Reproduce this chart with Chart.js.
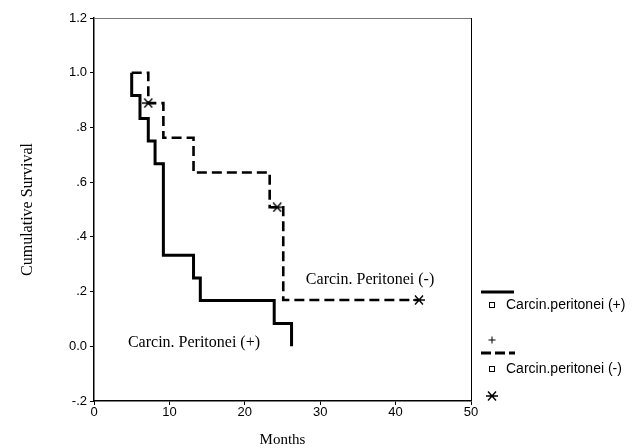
<!DOCTYPE html>
<html>
<head>
<meta charset="utf-8">
<script src="https://cdn.jsdelivr.net/npm/chart.js@4/dist/chart.umd.min.js"></script>
<style>
  html, body { margin: 0; padding: 0; background: #fff; }
  #wrap { width: 643px; height: 448px; }
</style>
</head>
<body>
<div id="wrap"><canvas id="kmChart" width="643" height="448"></canvas></div>
<script>
// Kaplan-Meier data: months / cumulative survival
const posMonths = [5, 5, 6.1, 7.2, 8.1, 9.2, 13.2, 14.1, 23.9, 26.2];
const posSurvival = [1.0, 0.917, 0.833, 0.75, 0.667, 0.333, 0.25, 0.167, 0.083, 0.0];
const negMonths = [5, 7.2, 9.2, 13.2, 23.3, 25.1, 43.1];
const negSurvival = [1.0, 0.889, 0.762, 0.635, 0.508, 0.169, 0.169];
const negCensorMonths = [7.2, 24.3, 43.1];
const negCensorSurvival = [0.889, 0.508, 0.169];

const xTicks = [0, 10, 20, 30, 40, 50];
const yTicks = [-0.2, 0, 0.2, 0.4, 0.6, 0.8, 1.0, 1.2];
const yTickLabels = ['-.2', '0.0', '.2', '.4', '.6', '.8', '1.0', '1.2'];
const seriesNames = ['Carcin.peritonei (+)', 'Carcin.peritonei (-)'];
const curveLabels = ['Carcin. Peritonei (+)', 'Carcin. Peritonei (-)'];
const curveLabelAt = [[4.5, 0.012], [28.1, 0.242]];

const SANS = '"Liberation Sans", Arial, sans-serif';
const SERIF = '"Liberation Serif", "Times New Roman", serif';

function toPoints(xs, ys) {
  return xs.map((x, i) => ({ x, y: ys[i] }));
}

function makeStar(w, h) {
  const c = document.createElement('canvas');
  c.width = w; c.height = h;
  const g = c.getContext('2d');
  g.strokeStyle = '#000';
  g.lineWidth = 1.4;
  g.beginPath();
  g.moveTo(0, h / 2); g.lineTo(w, h / 2);
  g.moveTo(2, 0.5); g.lineTo(w - 2, h - 0.5);
  g.moveTo(w - 2, 0.5); g.lineTo(2, h - 0.5);
  g.stroke();
  return c;
}
const starImg = makeStar(12, 10);

// box round the plot (top + right sides)
const framePlugin = {
  id: 'frame',
  beforeDatasetsDraw(chart) {
    const { ctx, chartArea: a } = chart;
    ctx.save();
    ctx.lineWidth = 1;
    ctx.strokeStyle = '#777';
    ctx.beginPath();
    ctx.moveTo(a.left, a.top + 0.5); ctx.lineTo(a.right, a.top + 0.5);
    ctx.stroke();
    ctx.strokeStyle = '#000';
    ctx.beginPath();
    ctx.moveTo(a.right + 0.5, a.top); ctx.lineTo(a.right + 0.5, a.bottom);
    ctx.stroke();
    ctx.restore();
  }
};

// text labels next to the curves
const curveLabelPlugin = {
  id: 'curveLabels',
  afterDatasetsDraw(chart) {
    const { ctx, scales: { x, y } } = chart;
    ctx.save();
    ctx.font = '16px ' + SERIF;
    ctx.fillStyle = '#000';
    ctx.textBaseline = 'middle';
    ctx.textAlign = 'left';
    curveLabels.forEach((t, i) => {
      ctx.fillText(t, x.getPixelForValue(curveLabelAt[i][0]), y.getPixelForValue(curveLabelAt[i][1]));
    });
    ctx.restore();
  }
};

// SPSS style legend on the right
const legendPlugin = {
  id: 'spssLegend',
  afterDraw(chart) {
    const ctx = chart.ctx;
    const x0 = chart.chartArea.right + 10;
    const mx = x0 + 11;
    const tx = x0 + 25;
    ctx.save();
    ctx.strokeStyle = '#000';
    ctx.fillStyle = '#000';

    // solid line sample
    ctx.lineWidth = 3;
    ctx.beginPath(); ctx.moveTo(x0, 292); ctx.lineTo(x0 + 33, 292); ctx.stroke();

    // dashed line sample
    ctx.setLineDash([10, 4]);
    ctx.beginPath(); ctx.moveTo(x0, 353); ctx.lineTo(x0 + 34, 353); ctx.stroke();
    ctx.setLineDash([]);

    // squares
    ctx.lineWidth = 1;
    [305, 369].forEach(y => ctx.strokeRect(mx - 2.5, y - 2.5, 5, 5));

    // plus
    ctx.beginPath();
    ctx.moveTo(mx - 3.5, 340); ctx.lineTo(mx + 3.5, 340);
    ctx.moveTo(mx, 336.5); ctx.lineTo(mx, 343.5);
    ctx.stroke();

    // star
    ctx.drawImage(starImg, mx - 6, 396 - 5);

    ctx.font = '14px ' + SANS;
    ctx.textBaseline = 'middle';
    ctx.fillText(seriesNames[0], tx, 305);
    ctx.fillText(seriesNames[1], tx, 369);
    ctx.restore();
  }
};

const ctx = document.getElementById('kmChart').getContext('2d');
new Chart(ctx, {
  type: 'scatter',
  data: {
    datasets: [
      {
        label: seriesNames[0],
        data: toPoints(posMonths, posSurvival),
        showLine: true,
        stepped: 'before',
        borderColor: '#000',
        borderWidth: 3,
        borderJoinStyle: 'miter',
        pointRadius: 0,
        fill: false
      },
      {
        label: seriesNames[1],
        data: toPoints(negMonths, negSurvival),
        showLine: true,
        stepped: 'before',
        borderColor: '#000',
        borderWidth: 2.6,
        borderDash: [10, 5],
        borderJoinStyle: 'miter',
        pointRadius: 0,
        fill: false
      },
      {
        label: 'censored',
        data: toPoints(negCensorMonths, negCensorSurvival),
        showLine: false,
        pointStyle: starImg,
        pointRadius: 6
      }
    ]
  },
  options: {
    responsive: false,
    animation: false,
    devicePixelRatio: 1,
    layout: { padding: { left: 0, right: 172, top: 18, bottom: 0 } },
    plugins: {
      legend: { display: false },
      tooltip: { enabled: false }
    },
    scales: {
      x: {
        type: 'linear',
        min: 0,
        max: 50,
        afterFit(scale) { scale.height = 47; },
        afterBuildTicks(scale) { scale.ticks = xTicks.map(v => ({ value: v })); },
        border: { display: true, color: '#000', width: 1.5 },
        grid: { drawOnChartArea: false, drawTicks: true, tickLength: 4, color: '#000' },
        ticks: {
          color: '#000',
          padding: 0,
          maxRotation: 0,
          font: { family: SANS, size: 13 }
        },
        title: {
          display: true,
          text: 'Months',
          color: '#000',
          font: { family: SERIF, size: 15, lineHeight: 1 },
          padding: { top: 0, bottom: 0 }
        }
      },
      y: {
        type: 'linear',
        min: -0.2,
        max: 1.2,
        afterFit(scale) { scale.width = 94; },
        afterBuildTicks(scale) { scale.ticks = yTicks.map(v => ({ value: v })); },
        border: { display: true, color: '#000', width: 1.5 },
        grid: { drawOnChartArea: false, drawTicks: true, tickLength: 4, color: '#000' },
        ticks: {
          color: '#000',
          padding: 3,
          font: { family: SANS, size: 13 },
          callback(value) {
            const i = yTicks.findIndex(t => Math.abs(t - value) < 1e-6);
            return i >= 0 ? yTickLabels[i] : '';
          }
        },
        title: {
          display: true,
          text: 'Cumulative Survival',
          color: '#000',
          font: { family: SERIF, size: 16, lineHeight: 1 },
          padding: { top: 20, bottom: 0 }
        }
      }
    }
  },
  plugins: [framePlugin, curveLabelPlugin, legendPlugin]
});
</script>
</body>
</html>
